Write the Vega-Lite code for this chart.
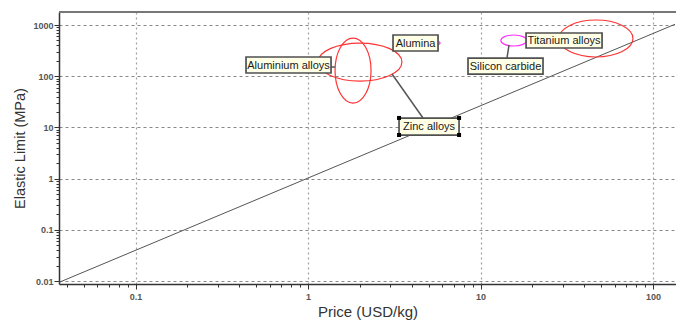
{
  "$schema": "https://vega.github.io/schema/vega-lite/v6.json",
  "width": 617,
  "height": 272,
  "autosize": {"type": "none"},
  "padding": {"left": 59, "top": 12, "right": 0, "bottom": 37},
  "background": "white",
  "config": {"view": {"stroke": null}, "font": "Liberation Sans"},
  "datasets": {
    "guide": [
      {"price": 0.036, "limit": 0.0094},
      {"price": 134, "limit": 1032}
    ],
    "materials": [
      {"material": "Alumina", "price": 5.6, "limit": 445},
      {"material": "Zinc alloys", "price": 2.0, "limit": 189},
      {"material": "Aluminium alloys", "price": 1.824, "limit": 129},
      {"material": "Silicon carbide", "price": 15.6, "limit": 498},
      {"material": "Titanium alloys", "price": 46.7, "limit": 545}
    ],
    "leaders": [
      {"material": "Aluminium alloys", "x1": 1.36, "y1": 151, "x2": 1.433, "y2": 151},
      {"material": "Zinc alloys", "x1": 3.069, "y1": 110.4, "x2": 4.64, "y2": 15.3},
      {"material": "Silicon carbide", "x1": 14.63, "y1": 407, "x2": 14.24, "y2": 227}
    ],
    "labels": [
      {"label": "Aluminium alloys", "price": 0.771, "limit": 165.5},
      {"label": "Alumina", "price": 4.2, "limit": 445},
      {"label": "Zinc alloys", "price": 5.03, "limit": 10.4},
      {"label": "Silicon carbide", "price": 13.96, "limit": 158},
      {"label": "Titanium alloys", "price": 30.5, "limit": 498}
    ],
    "handles": [
      {"price": 3.37, "limit": 15.3},
      {"price": 7.51, "limit": 15.3},
      {"price": 3.37, "limit": 7.11},
      {"price": 7.51, "limit": 7.11}
    ]
  },
  "resolve": {"scale": {"shape": "independent", "color": "independent"}},
  "layer": [
    {
      "data": {"name": "guide"},
      "mark": {"type": "line", "color": "#555555", "strokeWidth": 1, "clip": true},
      "encoding": {
        "x": {
          "field": "price", "type": "quantitative",
          "scale": {"type": "log", "domain": [0.03601, 135.9], "nice": false, "zero": false},
          "axis": {
            "title": "Price (USD/kg)",
            "titleFont": "Liberation Sans", "titleFontSize": 15, "titleFontWeight": "normal", "titleColor": "#333333", "titlePadding": 3,
            "values": [0.04,0.05,0.06,0.07,0.08,0.09,0.1,0.2,0.3,0.4,0.5,0.6,0.7,0.8,0.9,1,2,3,4,5,6,7,8,9,10,20,30,40,50,60,70,80,90,100],
            "format": "~g",
            "labelExpr": "indexof([0.1,1,10,100], datum.value) >= 0 ? datum.label : ''",
            "labelFont": "Liberation Sans", "labelFontSize": 9, "labelFontWeight": "bold", "labelColor": "#555555", "labelPadding": 3,
            "labelFlush": false, "labelOverlap": false,
            "domainColor": "#333333", "domainWidth": 1.5,
            "tickColor": "#333333", "tickWidth": 1,
            "tickSize": {"condition": {"test": "indexof([0.1,1,10,100], datum.value) >= 0", "value": 5}, "value": 3},
            "grid": true, "gridColor": "#A0A0A0", "gridDash": [2, 3], "gridWidth": 1.2,
            "gridOpacity": {"condition": {"test": "indexof([0.1,1,10,100], datum.value) >= 0", "value": 1}, "value": 0}
          }
        },
        "y": {
          "field": "limit", "type": "quantitative",
          "scale": {"type": "log", "domain": [0.00874, 1795], "nice": false, "zero": false},
          "axis": {
            "title": "Elastic Limit (MPa)",
            "titleFont": "Liberation Sans", "titleFontSize": 14.5, "titleFontWeight": "normal", "titleColor": "#333333", "titlePadding": 5,
            "values": [0.01,0.02,0.03,0.04,0.05,0.06,0.07,0.08,0.09,0.1,0.2,0.3,0.4,0.5,0.6,0.7,0.8,0.9,1,2,3,4,5,6,7,8,9,10,20,30,40,50,60,70,80,90,100,200,300,400,500,600,700,800,900,1000],
            "format": "~g",
            "labelExpr": "indexof([0.01,0.1,1,10,100,1000], datum.value) >= 0 ? datum.label : ''",
            "labelFont": "Liberation Sans", "labelFontSize": 9, "labelFontWeight": "bold", "labelColor": "#555555", "labelPadding": 1,
            "labelFlush": false, "labelOverlap": false,
            "domainColor": "#333333", "domainWidth": 1.5,
            "tickColor": "#333333", "tickWidth": 1,
            "tickSize": {"condition": {"test": "indexof([0.01,0.1,1,10,100,1000], datum.value) >= 0", "value": 5}, "value": 3},
            "grid": true, "gridColor": "#888888", "gridDash": [3, 3], "gridWidth": 1,
            "gridOpacity": {"condition": {"test": "indexof([0.01,0.1,1,10,100,1000], datum.value) >= 0", "value": 1}, "value": 0}
          }
        }
      }
    },
    {
      "data": {"name": "materials"},
      "mark": {"type": "point", "filled": false, "size": 4, "strokeWidth": 1.2, "opacity": 1},
      "encoding": {
        "x": {"field": "price", "type": "quantitative"},
        "y": {"field": "limit", "type": "quantitative"},
        "shape": {
          "field": "material", "type": "nominal", "legend": null,
          "scale": {
            "domain": ["Alumina", "Zinc alloys", "Aluminium alloys", "Silicon carbide", "Titanium alloys"],
            "range": [
              "M3,0C3,0.83 1.66,1.5 0,1.5C-1.66,1.5 -3,0.83 -3,0C-3,-0.83 -1.66,-1.5 0,-1.5C1.66,-1.5 3,-0.83 3,0Z",
              "M42,0C42,10.49 23.2,19 0,19C-23.2,19 -42,10.49 -42,0C-42,-10.49 -23.2,-19 0,-19C23.2,-19 42,-10.49 42,0Z",
              "M18,0C18,17.95 9.94,32.5 0,32.5C-9.94,32.5 -18,17.95 -18,0C-18,-17.95 -9.94,-32.5 0,-32.5C9.94,-32.5 18,-17.95 18,0Z",
              "M13,0C13,3.04 7.18,5.5 0,5.5C-7.18,5.5 -13,3.04 -13,0C-13,-3.04 -7.18,-5.5 0,-5.5C7.18,-5.5 13,-3.04 13,0Z",
              "M37,0C37,10.22 20.44,18.5 0,18.5C-20.44,18.5 -37,10.22 -37,0C-37,-10.22 -20.44,-18.5 0,-18.5C20.44,-18.5 37,-10.22 37,0Z"
            ]
          }
        },
        "color": {
          "field": "material", "type": "nominal", "legend": null,
          "scale": {
            "domain": ["Alumina", "Zinc alloys", "Aluminium alloys", "Silicon carbide", "Titanium alloys"],
            "range": ["#FF33FF", "#FF3333", "#FF3333", "#FF33FF", "#FF3333"]
          }
        }
      }
    },
    {
      "data": {"name": "leaders"},
      "mark": {"type": "rule", "color": "#555555", "strokeWidth": 1.5},
      "encoding": {
        "x": {"field": "x1", "type": "quantitative"},
        "y": {"field": "y1", "type": "quantitative"},
        "x2": {"field": "x2"},
        "y2": {"field": "y2"}
      }
    },
    {
      "data": {"name": "labels"},
      "mark": {"type": "point", "filled": true, "size": 4, "fill": "#FFFFE6", "stroke": "#505050", "strokeWidth": 1.7, "opacity": 1, "fillOpacity": 1},
      "encoding": {
        "x": {"field": "price", "type": "quantitative"},
        "y": {"field": "limit", "type": "quantitative"},
        "shape": {
          "field": "label", "type": "nominal", "legend": null,
          "scale": {
            "domain": ["Aluminium alloys", "Alumina", "Zinc alloys", "Silicon carbide", "Titanium alloys"],
            "range": [
              "M-42.5,-8L42.5,-8L42.5,8L-42.5,8Z",
              "M-22.5,-8L22.5,-8L22.5,8L-22.5,8Z",
              "M-30,-8.5L30,-8.5L30,8.5L-30,8.5Z",
              "M-37.5,-8L37.5,-8L37.5,8L-37.5,8Z",
              "M-38,-7.5L38,-7.5L38,7.5L-38,7.5Z"
            ]
          }
        }
      }
    },
    {
      "data": {"name": "labels"},
      "mark": {"type": "text", "font": "Liberation Sans", "fontSize": 11, "color": "#1a1a1a", "align": "center", "baseline": "middle", "dy": 0.5},
      "encoding": {
        "x": {"field": "price", "type": "quantitative"},
        "y": {"field": "limit", "type": "quantitative"},
        "text": {"field": "label"}
      }
    },
    {
      "data": {"name": "handles"},
      "mark": {"type": "point", "shape": "square", "filled": true, "size": 16, "color": "#000000", "opacity": 1},
      "encoding": {
        "x": {"field": "price", "type": "quantitative"},
        "y": {"field": "limit", "type": "quantitative"}
      }
    },
    {
      "data": {"values": [{}]},
      "mark": {"type": "rule", "color": "#777777", "strokeWidth": 2},
      "encoding": {
        "y": {"datum": 1795, "type": "quantitative"}
      }
    }
  ]
}
